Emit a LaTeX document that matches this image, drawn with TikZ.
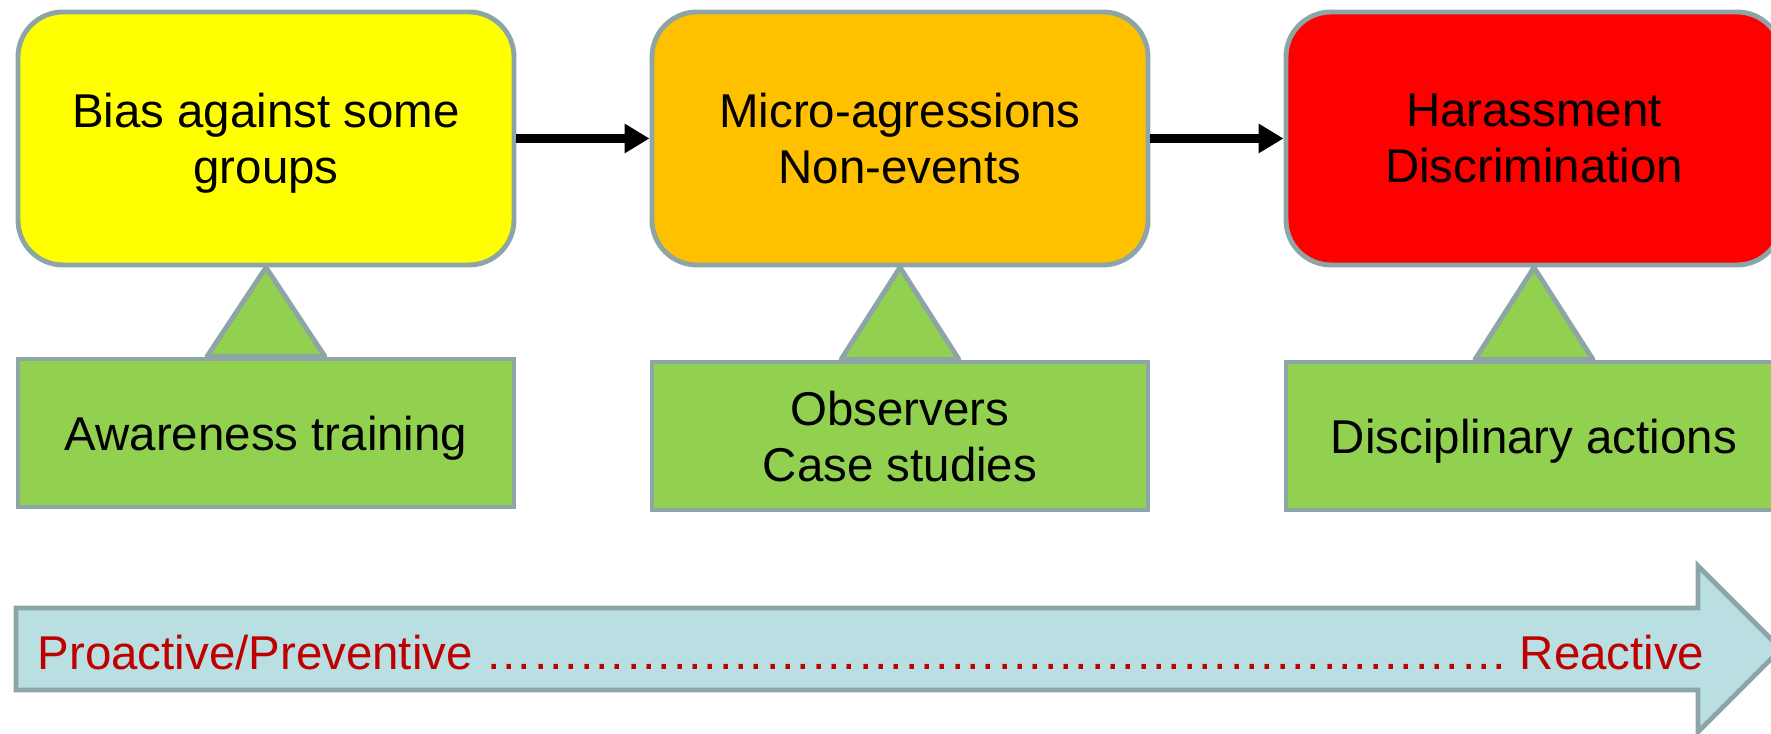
\documentclass[tikz,border=0pt]{standalone}
\usepackage{fontspec}
\setmainfont{Liberation Sans}
\usepackage{tikz}
\usetikzlibrary{arrows.meta, positioning, calc}
\usepackage{xcolor}
\definecolor{Frame}{HTML}{8EA5A8}
\definecolor{Bias}{HTML}{FFFF00}
\definecolor{Micro}{HTML}{FFC000}
\definecolor{Harass}{HTML}{FF0000}
\definecolor{Leaf}{HTML}{92D050}
\definecolor{Sky}{HTML}{B9DFE3}
\definecolor{Brick}{HTML}{C00000}
\newcommand{\boxfont}{\fontsize{13.5pt}{15.9pt}\selectfont}

\begin{document}
\begin{tikzpicture}[
    every node/.style={font=\boxfont},
    stage/.style={draw=Frame, line width=1.4pt, rounded corners=0.45cm,
        minimum width=4.96cm, minimum height=2.53cm, align=center, text depth=0pt},
    measure/.style={draw=Frame, line width=1.4pt, fill=Leaf,
        minimum width=4.96cm, minimum height=1.48cm, align=center, text depth=0pt},
    tri/.style={draw=Frame, line width=1.4pt, fill=Leaf, line join=round},
    arr/.style={-{Triangle[length=2.5mm, width=2.8mm]}, line width=2.6pt},
    bigarrow/.style={draw=Frame, line width=1.4pt, fill=Sky, line join=miter},
]
\useasboundingbox (0,0) rectangle (17.71,7.34);

% =============================================
% STAGES
% =============================================
\node[stage, fill=Bias] (st1) at (2.66, 5.955) {Bias against some\\groups};
\node[stage, fill=Micro] (st2) at (9.00, 5.955) {Micro-agressions\\Non-events};
\node[stage, fill=Harass] (st3) at (15.34, 5.955) {Harassment\\Discrimination};

\draw[arr] (st1) -- (st2);
\draw[arr] (st2) -- (st3);

% =============================================
% MEASURES (green boxes + pointers)
% =============================================
\node[measure] (ms1) at (2.66, 3.01) {Awareness training};
\node[measure] (ms2) at (9.00, 2.98) {Observers\\Case studies};
\node[measure] (ms3) at (15.34, 2.98) {Disciplinary actions};

\draw[tri] ([xshift=-0.59cm]ms1.north) -- (st1.south) -- ([xshift=0.59cm]ms1.north) -- cycle;
\draw[tri] ([xshift=-0.59cm]ms2.north) -- (st2.south) -- ([xshift=0.59cm]ms2.north) -- cycle;
\draw[tri] ([xshift=-0.59cm]ms3.north) -- (st3.south) -- ([xshift=0.59cm]ms3.north) -- cycle;

% =============================================
% BOTTOM: proactive -> reactive scale
% =============================================
\draw[bigarrow] (0.16, 0.44) -- (0.16, 1.26) -- (16.98, 1.26) -- (16.98, 1.68)
    -- (17.81, 0.85) -- (16.98, 0.02) -- (16.98, 0.44) -- cycle;
\node[text=Brick, anchor=base west, inner sep=0pt] (range) at (0.37, 0.64)
    {Proactive/Preventive \foreach \k in {1,...,22}{…\kern-0.3pt} Reactive};

\end{tikzpicture}
\end{document}
